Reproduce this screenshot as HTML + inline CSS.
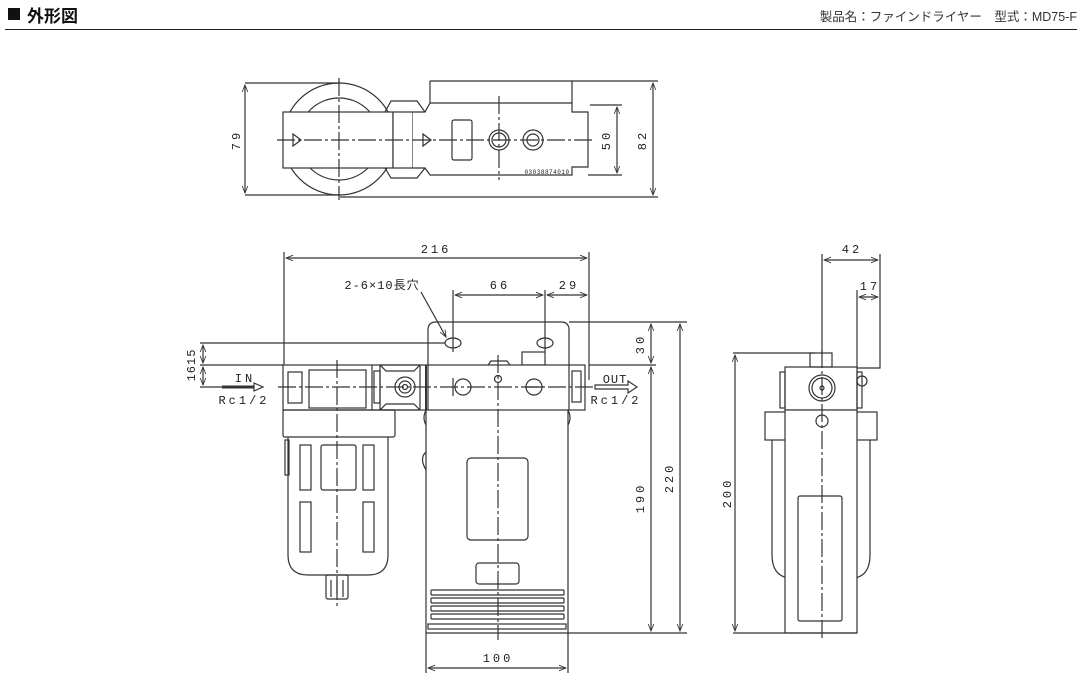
<!DOCTYPE html>
<html><head><meta charset="utf-8"><style>
html,body{margin:0;padding:0;background:#fff;}
body{width:1081px;height:679px;overflow:hidden;position:relative;font-family:"Liberation Sans","Noto Sans CJK JP",sans-serif;}
</style></head><body>
<svg width="1081" height="679" viewBox="0 0 1081 679" xmlns="http://www.w3.org/2000/svg" style="position:absolute;left:0;top:0">
<defs>
<marker id="a" viewBox="0 0 10 10" refX="10" refY="5" markerWidth="9" markerHeight="7" orient="auto-start-reverse" markerUnits="userSpaceOnUse"><path d="M0,1 L10,5 L0,9" fill="none" stroke="#333" stroke-width="1.2"/></marker>
</defs>
<!-- header -->
<rect x="8" y="8" width="12" height="12" fill="#111"/>
<text x="27" y="22" font-size="17" font-weight="bold" fill="#111" font-family="'Liberation Sans','Noto Sans CJK JP',sans-serif">外形図</text>
<text x="1077" y="21" font-size="12.5" fill="#333" text-anchor="end" font-family="'Liberation Sans','Noto Sans CJK JP',sans-serif">製品名：ファインドライヤー　型式：MD75-F</text>
<line x1="5" y1="29.5" x2="1077" y2="29.5" stroke="#222" stroke-width="1"/>

<g fill="none" stroke="#333" stroke-width="1.2">
<!-- TOP VIEW -->
<line x1="245" y1="83" x2="340" y2="83"/><line x1="245" y1="195" x2="340" y2="195"/>
<line x1="245" y1="85" x2="245" y2="193" marker-start="url(#a)" marker-end="url(#a)"/>
<circle cx="339" cy="139" r="56"/><circle cx="339" cy="139" r="41"/>
<rect x="283" y="112" width="110" height="56" fill="#fff"/>
<rect x="393" y="112" width="20" height="56" fill="#fff"/>
<path d="M385,112 L391,101 L417,101 L425,112 M385,168 L391,178 L417,178 L425,168"/>
<path d="M430,81 L572,81 L572,103 M430,81 L430,103"/>
<path d="M413,112 L425,112 L430,103 L572,103 L572,112 L588,112 L588,167 L572,167 L572,175 L430,175 L425,168 L413,168" fill="#fff"/>
<rect x="452" y="120" width="20" height="40" rx="2"/>
<circle cx="499" cy="140" r="10"/><circle cx="499" cy="140" r="7"/>
<circle cx="533" cy="140" r="10"/><circle cx="533" cy="140" r="6"/>
<line x1="277" y1="140" x2="595" y2="140" stroke-dasharray="18 3 3 3"/>
<line x1="339" y1="78" x2="339" y2="200" stroke-dasharray="18 3 3 3"/>
<line x1="499" y1="96" x2="499" y2="180" stroke-dasharray="18 3 3 3"/>
<path d="M293,134 L301,140 L293,146 Z M423,134 L431,140 L423,146 Z"/>
<line x1="590" y1="105" x2="622" y2="105"/><line x1="588" y1="175" x2="622" y2="175"/>
<line x1="617" y1="107" x2="617" y2="173" marker-start="url(#a)" marker-end="url(#a)"/>
<line x1="572" y1="81" x2="658" y2="81"/><line x1="340" y1="197" x2="658" y2="197"/>
<line x1="653" y1="83" x2="653" y2="195" marker-start="url(#a)" marker-end="url(#a)"/>

<!-- FRONT VIEW dims -->
<line x1="284" y1="252" x2="284" y2="365"/><line x1="589" y1="252" x2="589" y2="380"/>
<line x1="286" y1="258" x2="587" y2="258" marker-start="url(#a)" marker-end="url(#a)"/>
<line x1="453" y1="290" x2="453" y2="352"/><line x1="545" y1="290" x2="545" y2="352"/>
<line x1="455" y1="295" x2="543" y2="295" marker-start="url(#a)" marker-end="url(#a)"/>
<line x1="547" y1="295" x2="587" y2="295" marker-start="url(#a)" marker-end="url(#a)"/>
<line x1="421" y1="292" x2="446" y2="337" marker-end="url(#a)"/>
<!-- bracket plate -->
<path d="M428,365 L428,330 Q428,322 436,322 L561,322 Q569,322 569,330 L569,365"/>
<line x1="569" y1="322" x2="687" y2="322"/>
<ellipse cx="453" cy="343" rx="8" ry="5"/><ellipse cx="545" cy="343" rx="8" ry="5"/>
<line x1="200" y1="343" x2="445" y2="343"/>
<line x1="200" y1="365" x2="283" y2="365"/>
<line x1="200" y1="387" x2="222" y2="387"/>
<line x1="203" y1="345" x2="203" y2="363" marker-start="url(#a)" marker-end="url(#a)"/>
<line x1="203" y1="367" x2="203" y2="385" marker-start="url(#a)" marker-end="url(#a)"/>
<rect x="522" y="352" width="23" height="13"/>
<path d="M488,365 L491,361 L507,361 L510,365"/>
<!-- main horizontal body -->
<rect x="283" y="365" width="302" height="45" fill="#fff"/>
<rect x="288" y="372" width="14" height="31"/>
<rect x="309" y="370" width="57" height="38"/>
<line x1="372" y1="365" x2="372" y2="410"/>
<rect x="380" y="365" width="40" height="45"/>
<path d="M380,365 L386,371 L414,371 L420,365 M380,410 L386,404 L414,404 L420,410"/>
<rect x="374" y="371" width="6" height="32"/>
<circle cx="405" cy="387" r="10"/><circle cx="405" cy="387" r="6"/><circle cx="405" cy="387" r="2.5"/>
<line x1="426" y1="365" x2="426" y2="410" stroke-width="2"/>
<line x1="428" y1="365" x2="428" y2="410"/>
<circle cx="463" cy="387" r="8"/><circle cx="534" cy="387" r="8"/><circle cx="498" cy="379" r="3.5"/>
<line x1="569" y1="365" x2="569" y2="410"/>
<rect x="572" y="371" width="9" height="31"/>
<line x1="278" y1="387" x2="600" y2="387" stroke-dasharray="18 3 3 3"/>
<line x1="453" y1="378" x2="453" y2="396"/><line x1="525" y1="387" x2="543" y2="387"/>
<!-- IN / OUT arrows -->
<line x1="222" y1="387" x2="255" y2="387" stroke-width="3"/>
<path d="M254,383 L263,387 L254,391 Z" fill="#fff"/>
<path d="M595,385 L628,385 L628,381 L637,387 L628,393 L628,389 L595,389 Z" fill="#fff"/>
<!-- filter bowl -->
<rect x="283" y="410" width="112" height="27" rx="2"/>
<path d="M288,437 L288,555 Q288,575 308,575 L368,575 Q388,575 388,555 L388,437"/>
<rect x="285" y="440" width="4" height="35"/>
<rect x="300" y="445" width="11" height="45"/><rect x="321" y="445" width="35" height="45" rx="2"/><rect x="363" y="445" width="11" height="45"/>
<rect x="300" y="502" width="11" height="50"/><rect x="363" y="502" width="11" height="50"/>
<rect x="326" y="575" width="22" height="24" rx="2"/>
<line x1="331" y1="580" x2="331" y2="597"/><line x1="337" y1="580" x2="337" y2="597"/><line x1="343" y1="580" x2="343" y2="597"/>
<line x1="337" y1="360" x2="337" y2="606" stroke-dasharray="18 3 3 3"/>
<!-- dryer body -->
<line x1="426" y1="410" x2="426" y2="633"/><line x1="568" y1="410" x2="568" y2="633"/>
<path d="M426,452 Q419,458 426,470 M426,410 Q422,418 426,425 M568,410 Q572,418 568,425"/>
<rect x="467" y="458" width="61" height="82" rx="4"/>
<rect x="476" y="563" width="43" height="21" rx="3"/>
<rect x="431" y="590" width="133" height="5" rx="1"/><rect x="431" y="598" width="133" height="5" rx="1"/>
<rect x="431" y="606" width="133" height="5" rx="1"/><rect x="431" y="614" width="133" height="5" rx="1"/>
<rect x="428" y="624" width="138" height="5"/>
<line x1="426" y1="633" x2="568" y2="633"/>
<line x1="498" y1="355" x2="498" y2="640" stroke-dasharray="18 3 3 3"/>
<line x1="568" y1="633" x2="687" y2="633"/>
<line x1="589" y1="365" x2="656" y2="365"/>
<line x1="651" y1="324" x2="651" y2="363" marker-start="url(#a)" marker-end="url(#a)"/>
<line x1="651" y1="367" x2="651" y2="631" marker-start="url(#a)" marker-end="url(#a)"/>
<line x1="680" y1="324" x2="680" y2="631" marker-start="url(#a)" marker-end="url(#a)"/>
<line x1="426" y1="633" x2="426" y2="673"/><line x1="568" y1="633" x2="568" y2="673"/>
<line x1="428" y1="668" x2="566" y2="668" marker-start="url(#a)" marker-end="url(#a)"/>

<!-- SIDE VIEW -->
<line x1="822" y1="254" x2="822" y2="353"/><line x1="880" y1="254" x2="880" y2="325"/>
<line x1="824" y1="260" x2="878" y2="260" marker-start="url(#a)" marker-end="url(#a)"/>
<line x1="857" y1="290" x2="857" y2="368"/>
<line x1="859" y1="297" x2="878" y2="297" marker-start="url(#a)" marker-end="url(#a)"/>
<path d="M880,325 L880,368 L857,368"/>
<rect x="810" y="353" width="22" height="14"/>
<rect x="785" y="367" width="72" height="43"/>
<rect x="780" y="372" width="5" height="36"/><rect x="857" y="372" width="5" height="36"/>
<circle cx="822" cy="388" r="13"/><circle cx="822" cy="388" r="10"/><circle cx="822" cy="388" r="2"/>
<circle cx="862" cy="381" r="5"/>
<rect x="765" y="412" width="112" height="28"/>
<path d="M772,440 L772,555 Q772,575 788,578 M870,440 L870,555 Q870,575 855,578"/>
<rect x="785" y="410" width="72" height="223" fill="#fff"/>
<circle cx="822" cy="421" r="6"/>
<rect x="798" y="496" width="44" height="125" rx="2"/>
<line x1="822" y1="350" x2="822" y2="640" stroke-dasharray="18 3 3 3"/>
<line x1="733" y1="353" x2="815" y2="353"/><line x1="733" y1="633" x2="857" y2="633"/>
<line x1="735" y1="355" x2="735" y2="631" marker-start="url(#a)" marker-end="url(#a)"/>
</g>

<g font-family="'Liberation Mono','Noto Sans CJK JP',monospace" font-size="12" fill="#222" letter-spacing="3">
<text transform="translate(240,140) rotate(-90)" text-anchor="middle">79</text>
<text transform="translate(610,140) rotate(-90)" text-anchor="middle">50</text>
<text transform="translate(646,140) rotate(-90)" text-anchor="middle">82</text>
<text x="436" y="253" text-anchor="middle">216</text>
<text x="500" y="289" text-anchor="middle">66</text>
<text x="569" y="289" text-anchor="middle">29</text>
<text x="382" y="289" text-anchor="middle" letter-spacing="1">2-6×10長穴</text>
<text transform="translate(195,365) rotate(-90)" text-anchor="middle" letter-spacing="1">1615</text>
<text x="245" y="382" text-anchor="middle">IN</text>
<text x="244" y="404" text-anchor="middle">Rc1/2</text>
<text x="615" y="383" text-anchor="middle" letter-spacing="1">OUT</text>
<text x="616" y="404" text-anchor="middle">Rc1/2</text>
<text transform="translate(644,344) rotate(-90)" text-anchor="middle">30</text>
<text transform="translate(644,498) rotate(-90)" text-anchor="middle">190</text>
<text transform="translate(673,478) rotate(-90)" text-anchor="middle">220</text>
<text x="498" y="662" text-anchor="middle">100</text>
<text x="852" y="253" text-anchor="middle">42</text>
<text x="870" y="290" text-anchor="middle">17</text>
<text transform="translate(731,493) rotate(-90)" text-anchor="middle">200</text>
<text x="547" y="174" font-size="6" letter-spacing="0.5" text-anchor="middle">03038874010</text>
</g>
</svg>
</body></html>
